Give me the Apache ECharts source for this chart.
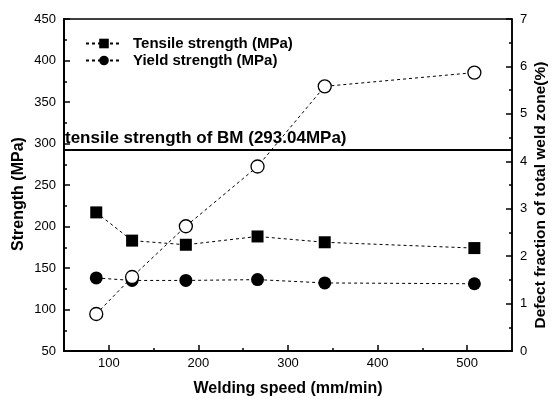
<!DOCTYPE html>
<html><head><meta charset="utf-8">
<script src="https://cdn.jsdelivr.net/npm/echarts@6/dist/echarts.min.js"></script>
<style>html,body{margin:0;padding:0;background:#fff}#c{width:552px;height:401px}</style>
</head><body><div id="c"></div>
<script>
const speeds = [86, 126, 186, 266, 341, 508];
const tensile = [217, 183, 178, 188, 181, 174];
const yieldS = [138, 135, 135, 136, 132, 131];
const defect = [0.78, 1.56, 2.63, 3.89, 5.58, 5.87];
const bmStrength = 293.04;
const xMajorTicks = [100, 200, 300, 400, 500];
const xMinorTicks = [150, 250, 350, 450];

const pair = (xs, ys) => xs.map((x, i) => [x, ys[i]]);
const font = 'Arial, "Liberation Sans", sans-serif';
const dash = [3, 3];

const chart = echarts.init(document.getElementById('c'), null, {renderer: 'canvas'});
chart.setOption({
  animation: false,
  backgroundColor: '#fff',
  grid: {left: 64, right: 40, top: 19, bottom: 50, outerBoundsMode: 'none', containLabel: false,
    show: true, borderColor: '#000', borderWidth: 1.5, backgroundColor: 'transparent'},
  legend: {
    left: 80, top: 31, orient: 'vertical', itemWidth: 36, itemHeight: 12, itemGap: 2,
    data: ['Tensile strength (MPa)', 'Yield strength (MPa)'],
    textStyle: {fontFamily: font, fontSize: 15, fontWeight: 'bold', color: '#000', padding: [0, 0, 0, 6]}
  },
  xAxis: [{
    type: 'value', min: 50, max: 550,
    name: 'Welding speed (mm/min)', nameLocation: 'middle', nameGap: 30,
    nameTextStyle: {fontFamily: font, fontSize: 16, fontWeight: 'bold', color: '#000'},
    axisLine: {lineStyle: {color: '#000', width: 2}},
    axisTick: {inside: true, length: 6, customValues: xMajorTicks, lineStyle: {color: '#000', width: 1.5}},
    axisLabel: {customValues: xMajorTicks, fontFamily: font, fontSize: 13, color: '#000', margin: 6},
    splitLine: {show: false}
  }, {
    type: 'value', min: 50, max: 550, position: 'bottom',
    axisLine: {show: false},
    axisTick: {inside: true, length: 3, customValues: xMinorTicks, lineStyle: {color: '#000', width: 1.5}},
    axisLabel: {show: false},
    splitLine: {show: false}
  }],
  yAxis: [{
    type: 'value', min: 50, max: 450, interval: 50,
    name: 'Strength (MPa)', nameLocation: 'middle', nameGap: 37, nameRotate: 90, nameMoveOverlap: false,
    nameTextStyle: {fontFamily: font, fontSize: 16, fontWeight: 'bold', color: '#000', padding: [0, 18, 0, 0]},
    axisLine: {lineStyle: {color: '#000', width: 2}},
    axisTick: {inside: true, length: 6, lineStyle: {color: '#000', width: 1.5}},
    minorTick: {show: true, splitNumber: 2, length: 3, lineStyle: {color: '#000', width: 1.5}},
    axisLabel: {fontFamily: font, fontSize: 13, color: '#000', margin: 8},
    splitLine: {show: false}
  }, {
    type: 'value', min: 0, max: 7, interval: 1, position: 'right',
    name: 'Defect fraction of total weld zone(%)', nameLocation: 'middle', nameGap: 21, nameRotate: 90, nameMoveOverlap: false,
    nameTextStyle: {fontFamily: font, fontSize: 15.5, fontWeight: 'bold', color: '#000', padding: [0, 20, 0, 0]},
    axisLine: {lineStyle: {color: '#000', width: 1.5}},
    axisTick: {inside: true, length: 6, lineStyle: {color: '#000', width: 1.5}},
    minorTick: {show: true, splitNumber: 2, length: 3, lineStyle: {color: '#000', width: 1.5}},
    axisLabel: {fontFamily: font, fontSize: 13, color: '#000', margin: 8},
    splitLine: {show: false}
  }],
  series: [{
    name: 'Tensile strength (MPa)', type: 'line', xAxisIndex: 0, yAxisIndex: 0,
    data: pair(speeds, tensile), symbol: 'rect', symbolSize: 12,
    itemStyle: {color: '#000'}, lineStyle: {color: '#000', width: 1, type: dash},
    markLine: {
      silent: true, symbol: 'none',
      lineStyle: {color: '#000', width: 1.8, type: 'solid'},
      label: {show: true, position: 'insideStartTop', formatter: 'tensile strength of BM (293.04MPa)',
        fontFamily: font, fontSize: 17, fontWeight: 'bold', color: '#000', distance: [1, 2]},
      data: [{yAxis: bmStrength}]
    }
  }, {
    name: 'Yield strength (MPa)', type: 'line', xAxisIndex: 0, yAxisIndex: 0,
    data: pair(speeds, yieldS), symbol: 'circle', symbolSize: 13,
    itemStyle: {color: '#000'}, lineStyle: {color: '#000', width: 1, type: dash}
  }, {
    name: 'Defect fraction', type: 'line', xAxisIndex: 0, yAxisIndex: 1, z: 5,
    data: pair(speeds, defect), symbol: 'circle', symbolSize: 13,
    itemStyle: {color: '#fff', borderColor: '#000', borderWidth: 1.3},
    lineStyle: {color: '#000', width: 1, type: dash}
  }]
});
</script></body></html>
